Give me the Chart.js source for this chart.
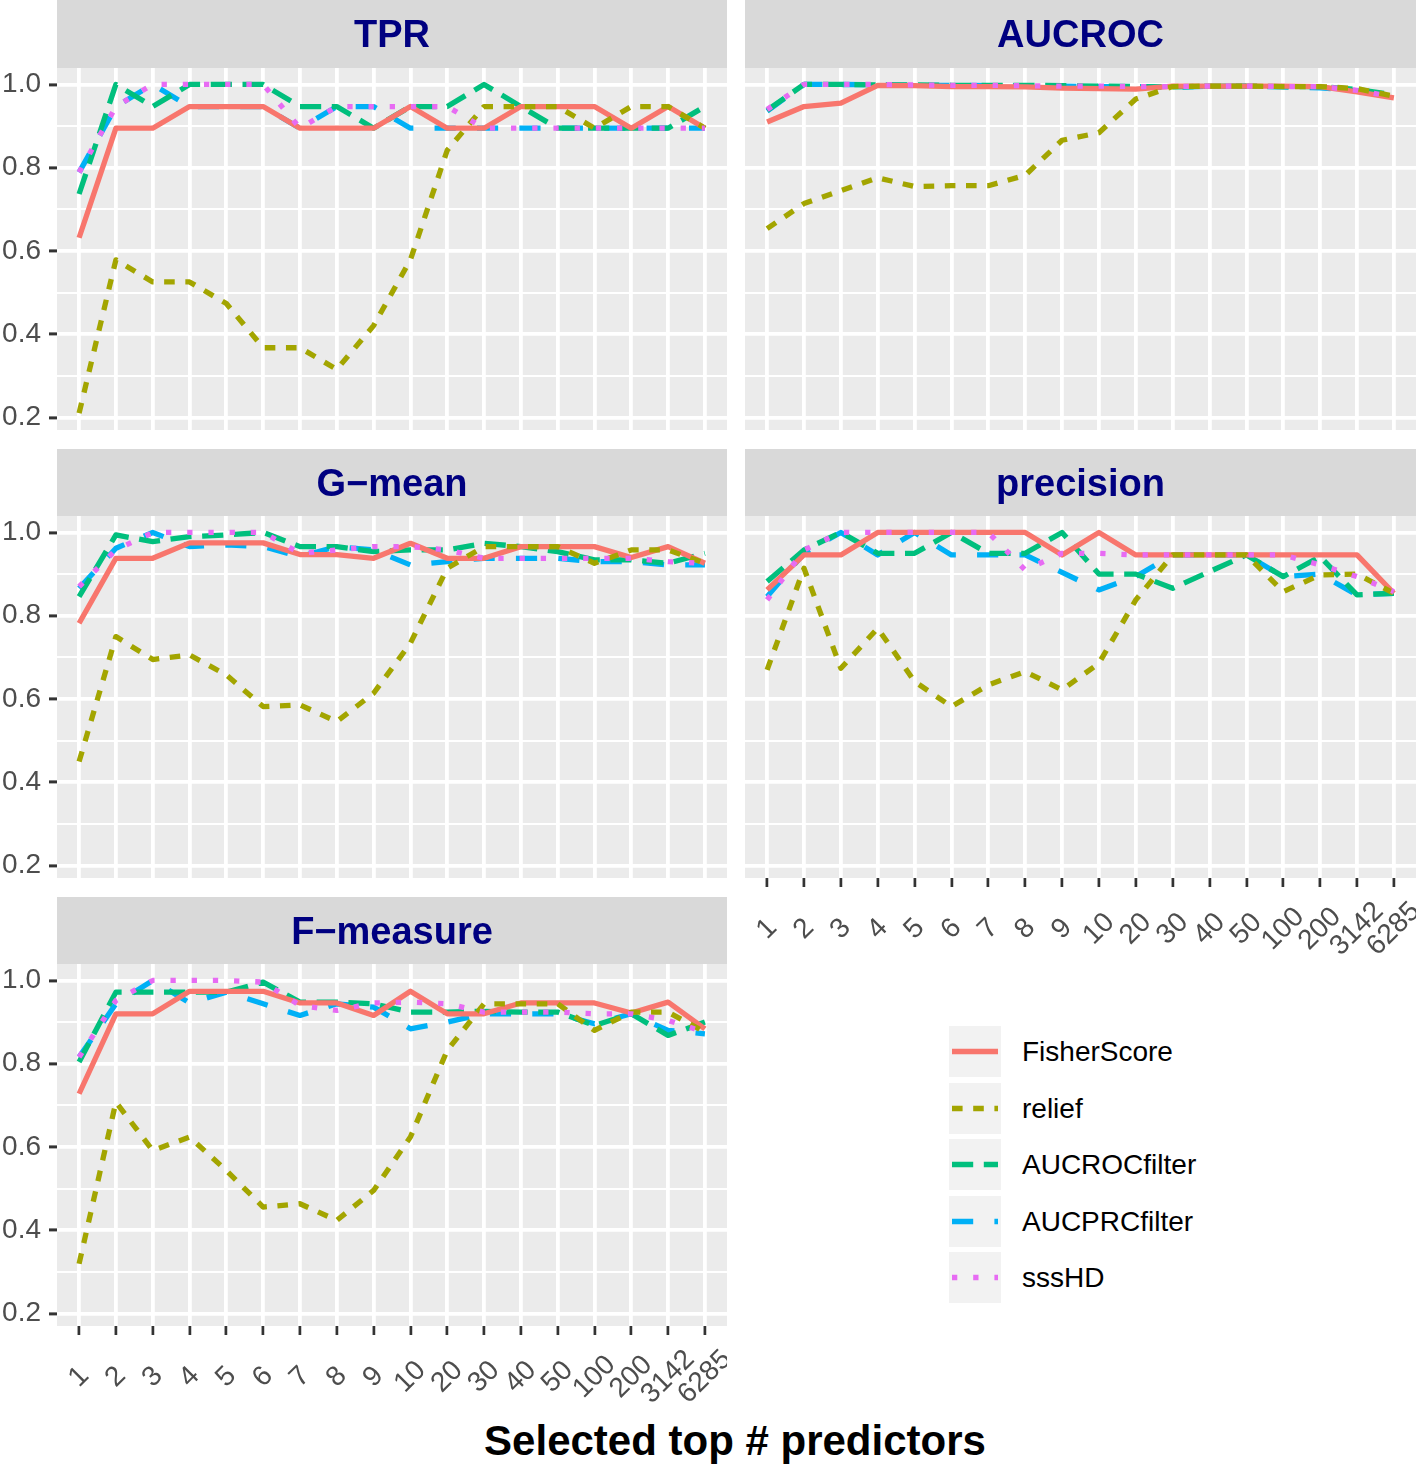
<!DOCTYPE html>
<html>
<head>
<meta charset="utf-8">
<title>Selected top # predictors</title>
<script src="https://cdn.jsdelivr.net/npm/chart.js@4.4.1/dist/chart.umd.min.js"></script>
<style>
  html, body { margin: 0; padding: 0; background: #ffffff; }
  body {
    position: relative;
    width: 1418px;
    height: 1465px;
    overflow: hidden;
    font-family: 'Liberation Sans', Arial, Helvetica, sans-serif;
  }
  .panel { position: absolute; }
  .panel canvas { display: block; }
  #xtitle {
    position: absolute;
    left: 235px;
    top: 1420px;
    width: 1000px;
    text-align: center;
    font-size: 42px;
    line-height: 42px;
    font-weight: bold;
    color: #000000;
  }
  .key { position: absolute; left: 949px; }
  .key canvas { position: absolute; left: 0; top: 0; }
  .key span {
    position: absolute;
    left: 73px;
    top: 0;
    height: 51px;
    line-height: 51px;
    font-size: 28px;
    color: #000000;
    white-space: nowrap;
  }
</style>
</head>
<body>
<div id="xtitle">Selected top # predictors</div>

<script>
// x categories, series names, facet titles
const categories = ['1', '2', '3', '4', '5', '6', '7', '8', '9', '10', '20', '30', '40', '50', '100', '200', '3142', '6285'];
const methods = ['FisherScore', 'relief', 'AUCROCfilter', 'AUCPRCfilter', 'sssHD'];
const metrics = ['TPR', 'AUCROC', 'G\u2212mean', 'precision', 'F\u2212measure'];

// y ticks (minor ones have no label)
const yTickValues = [0.2, 0.3, 0.4, 0.5, 0.6, 0.7, 0.8, 0.9, 1.0];
const yTickLabels = ['0.2', '', '0.4', '', '0.6', '', '0.8', '', '1.0'];

// TPR
const tprFisher = [0.632, 0.895, 0.895, 0.947, 0.947, 0.947, 0.895, 0.895, 0.895, 0.947, 0.895, 0.895, 0.947, 0.947, 0.947, 0.895, 0.947, 0.895];
const tprRelief = [0.211, 0.579, 0.526, 0.526, 0.474, 0.368, 0.368, 0.316, 0.421, 0.579, 0.842, 0.947, 0.947, 0.947, 0.895, 0.947, 0.947, 0.895];
const tprAucroc = [0.737, 1.0, 0.947, 1.0, 1.0, 1.0, 0.947, 0.947, 0.895, 0.947, 0.947, 1.0, 0.947, 0.895, 0.895, 0.895, 0.895, 0.947];
const tprAucprc = [0.789, 0.947, 1.0, 0.947, 0.947, 0.947, 0.895, 0.947, 0.947, 0.895, 0.895, 0.895, 0.895, 0.895, 0.895, 0.895, 0.895, 0.895];
const tprSsshd  = [0.789, 0.947, 1.0, 1.0, 1.0, 1.0, 0.895, 0.947, 0.947, 0.947, 0.947, 0.895, 0.895, 0.895, 0.895, 0.895, 0.895, 0.895];

// AUCROC
const aucFisher = [0.91, 0.947, 0.955, 0.998, 0.997, 0.995, 0.995, 0.994, 0.991, 0.99, 0.989, 0.996, 0.996, 0.996, 0.996, 0.995, 0.982, 0.968];
const aucRelief = [0.654, 0.714, 0.745, 0.776, 0.755, 0.757, 0.757, 0.782, 0.866, 0.884, 0.965, 0.995, 0.996, 0.996, 0.995, 0.995, 0.99, 0.972];
const aucAucroc = [0.938, 1.0, 1.0, 0.999, 0.999, 0.998, 0.998, 0.998, 0.997, 0.996, 0.995, 0.994, 0.996, 0.996, 0.995, 0.995, 0.988, 0.975];
const aucAucprc = [0.936, 1.0, 1.0, 0.999, 0.998, 0.998, 0.997, 0.996, 0.996, 0.995, 0.995, 0.993, 0.996, 0.996, 0.994, 0.992, 0.985, 0.975];
const aucSsshd  = [0.94, 1.0, 1.0, 1.0, 0.999, 0.998, 0.998, 0.997, 0.996, 0.996, 0.995, 0.995, 0.996, 0.996, 0.995, 0.995, 0.986, 0.97];

// G-mean
const gmFisher = [0.782, 0.938, 0.938, 0.975, 0.975, 0.975, 0.947, 0.947, 0.938, 0.974, 0.938, 0.938, 0.966, 0.966, 0.966, 0.94, 0.966, 0.926];
const gmRelief = [0.45, 0.75, 0.695, 0.706, 0.658, 0.582, 0.586, 0.546, 0.614, 0.734, 0.914, 0.966, 0.966, 0.966, 0.926, 0.958, 0.958, 0.926];
const gmAucroc = [0.846, 0.994, 0.978, 0.99, 0.994, 1.0, 0.966, 0.966, 0.954, 0.958, 0.958, 0.974, 0.966, 0.954, 0.934, 0.934, 0.926, 0.95];
const gmAucprc = [0.866, 0.962, 1.0, 0.966, 0.97, 0.966, 0.942, 0.966, 0.958, 0.922, 0.93, 0.938, 0.938, 0.938, 0.93, 0.93, 0.922, 0.922];
const gmSsshd  = [0.87, 0.958, 1.0, 1.0, 1.0, 1.0, 0.95, 0.958, 0.966, 0.966, 0.958, 0.938, 0.938, 0.938, 0.938, 0.938, 0.93, 0.926];

// precision
const prFisher = [0.862, 0.946, 0.946, 1.0, 1.0, 1.0, 1.0, 1.0, 0.946, 1.0, 0.946, 0.946, 0.946, 0.946, 0.946, 0.946, 0.946, 0.854];
const prRelief = [0.67, 0.914, 0.674, 0.77, 0.642, 0.582, 0.634, 0.666, 0.622, 0.686, 0.838, 0.946, 0.946, 0.946, 0.858, 0.898, 0.9, 0.854];
const prAucroc = [0.882, 0.958, 1.0, 0.95, 0.95, 1.0, 0.95, 0.95, 1.0, 0.9, 0.9, 0.866, 0.906, 0.946, 0.894, 0.942, 0.85, 0.854];
const prAucprc = [0.846, 0.95, 1.0, 0.946, 1.0, 0.946, 0.946, 0.946, 0.904, 0.862, 0.894, 0.946, 0.946, 0.946, 0.894, 0.9, 0.85, 0.854];
const prSsshd  = [0.838, 0.958, 1.0, 1.0, 1.0, 1.0, 1.0, 0.91, 0.95, 0.95, 0.946, 0.946, 0.946, 0.946, 0.946, 0.922, 0.894, 0.858];

// F-measure
const fmFisher = [0.728, 0.92, 0.92, 0.974, 0.974, 0.974, 0.946, 0.946, 0.916, 0.974, 0.92, 0.92, 0.946, 0.946, 0.946, 0.922, 0.948, 0.884];
const fmRelief = [0.32, 0.708, 0.592, 0.624, 0.544, 0.456, 0.464, 0.424, 0.496, 0.624, 0.832, 0.944, 0.944, 0.944, 0.88, 0.924, 0.924, 0.876];
const fmAucroc = [0.804, 0.972, 0.972, 0.972, 0.972, 0.996, 0.948, 0.948, 0.944, 0.924, 0.924, 0.926, 0.924, 0.924, 0.892, 0.92, 0.868, 0.9];
const fmAucprc = [0.816, 0.944, 1.0, 0.946, 0.972, 0.944, 0.916, 0.944, 0.936, 0.884, 0.9, 0.92, 0.92, 0.92, 0.896, 0.92, 0.88, 0.872];
const fmSsshd  = [0.816, 0.952, 1.0, 1.0, 1.0, 0.996, 0.94, 0.928, 0.946, 0.948, 0.944, 0.924, 0.924, 0.924, 0.92, 0.92, 0.904, 0.876];

const metricSeries = [
  [tprFisher, tprRelief, tprAucroc, tprAucprc, tprSsshd],
  [aucFisher, aucRelief, aucAucroc, aucAucprc, aucSsshd],
  [gmFisher, gmRelief, gmAucroc, gmAucprc, gmSsshd],
  [prFisher, prRelief, prAucroc, prAucprc, prSsshd],
  [fmFisher, fmRelief, fmAucroc, fmAucprc, fmSsshd]
];

// look of the lines (ggplot hue palette, linetypes solid/22/42/44/13)
const lineColors = ['#F8766D', '#A3A500', '#00BF7D', '#00B0F6', '#E76BF3'];
const lineWidth = 5.3;
const lineDashes = [[], [10.6, 10.6], [21.2, 10.6], [21.2, 21.2], [5.3, 15.9]];
const drawOrder = [3, 2, 4, 5, 1];   // higher drawn first

const fontFamily = "'Liberation Sans', Arial, Helvetica, sans-serif";
const yMin = 0.1705, yMax = 1.0395;

// facet placement on the page (width = plot area only)
const panelH = 362;
const panelBoxes = [
  { left: 0,   top: 0,   width: 670, strip: 68, yAxis: 57, xAxis: 0 },
  { left: 745, top: 0,   width: 671, strip: 68, yAxis: 0,  xAxis: 0 },
  { left: 0,   top: 449, width: 670, strip: 67, yAxis: 57, xAxis: 0 },
  { left: 745, top: 449, width: 671, strip: 67, yAxis: 0,  xAxis: 95 },
  { left: 0,   top: 897, width: 670, strip: 67, yAxis: 57, xAxis: 95 }
];

// grey strip + panel background
const panelBg = {
  id: 'panelBg',
  beforeDraw(chart) {
    const a = chart.chartArea;
    const ctx = chart.ctx;
    ctx.save();
    ctx.fillStyle = '#D9D9D9';
    ctx.fillRect(a.left, 0, a.right - a.left, a.top);
    ctx.fillStyle = '#EBEBEB';
    ctx.fillRect(a.left, a.top, a.right - a.left, a.bottom - a.top);
    ctx.restore();
  }
};

// rotated category labels, centred under each tick
const xLabels = {
  id: 'xLabels',
  afterDraw(chart, args, opts) {
    if (!opts.show) return;
    const ctx = chart.ctx;
    const xs = chart.scales.x;
    const bottom = chart.chartArea.bottom;
    ctx.save();
    ctx.font = '28px ' + fontFamily;
    ctx.fillStyle = '#4D4D4D';
    ctx.textAlign = 'center';
    ctx.textBaseline = 'middle';
    categories.forEach(function (lab, i) {
      ctx.save();
      ctx.translate(xs.getPixelForValue(i), bottom + 51);
      ctx.rotate(-Math.PI / 4);
      ctx.fillText(lab, 0, 0);
      ctx.restore();
    });
    ctx.restore();
  }
};

function isMajor(i) {
  return yTickLabels[i] !== '';
}

function zeroPadding(s) {
  s.paddingLeft = 0;
  s.paddingRight = 0;
  s.paddingTop = 0;
  s.paddingBottom = 0;
}

function buildPanel(k) {
  const box = panelBoxes[k];
  const showY = box.yAxis > 0;
  const showX = box.xAxis > 0;

  const holder = document.createElement('div');
  holder.className = 'panel';
  holder.style.left = box.left + 'px';
  holder.style.top = box.top + 'px';
  holder.style.width = (box.yAxis + box.width) + 'px';
  holder.style.height = (box.strip + panelH + box.xAxis) + 'px';
  const canvas = document.createElement('canvas');
  holder.appendChild(canvas);
  document.body.appendChild(holder);

  const datasets = methods.map(function (name, m) {
    return {
      label: name,
      data: metricSeries[k][m].map(function (v, i) { return { x: i, y: v }; }),
      borderColor: lineColors[m],
      backgroundColor: lineColors[m],
      borderWidth: lineWidth,
      borderDash: lineDashes[m],
      borderCapStyle: 'butt',
      borderJoinStyle: 'round',
      pointRadius: 0,
      pointHoverRadius: 0,
      tension: 0,
      fill: false,
      order: drawOrder[m]
    };
  });

  const titlePad = (box.strip - 38 * 1.2) / 2;

  new Chart(canvas, {
    type: 'line',
    data: { datasets: datasets },
    plugins: [panelBg, xLabels],
    options: {
      responsive: true,
      maintainAspectRatio: false,
      animation: false,
      devicePixelRatio: 1,
      events: [],
      layout: { padding: 0, autoPadding: false },
      plugins: {
        legend: { display: false },
        tooltip: { enabled: false },
        title: {
          display: true,
          text: metrics[k],
          fullSize: false,
          color: '#000080',
          font: { family: fontFamily, size: 38, weight: 'bold', lineHeight: 1.2 },
          padding: { top: titlePad + 3, bottom: titlePad - 3 }
        },
        xLabels: { show: showX }
      },
      scales: {
        x: {
          type: 'linear',
          bounds: 'data',
          min: -0.6,
          max: 17.6,
          afterBuildTicks: function (s) {
            s.ticks = categories.map(function (c, i) { return { value: i }; });
          },
          afterFit: function (s) {
            s.height = box.xAxis;
            zeroPadding(s);
          },
          ticks: { display: false, autoSkip: false },
          grid: {
            color: '#FFFFFF',
            lineWidth: 3.8,
            drawTicks: showX,
            tickLength: 9,
            tickColor: '#333333',
            tickWidth: 2.7
          },
          border: { display: false }
        },
        y: {
          type: 'linear',
          bounds: 'data',
          min: yMin,
          max: yMax,
          afterBuildTicks: function (s) {
            s.ticks = yTickValues.map(function (v) { return { value: v }; });
          },
          afterFit: function (s) {
            s.width = box.yAxis;
            zeroPadding(s);
          },
          ticks: {
            display: showY,
            autoSkip: false,
            padding: 8,
            color: '#4D4D4D',
            font: { family: fontFamily, size: 28 },
            callback: function (v, i) { return yTickLabels[i]; }
          },
          grid: {
            color: '#FFFFFF',
            lineWidth: function (c) { return isMajor(c.index) ? 3.8 : 1.9; },
            drawTicks: showY,
            tickLength: 8,
            tickColor: function (c) { return isMajor(c.index) ? '#333333' : 'rgba(0,0,0,0)'; },
            tickWidth: function (c) { return isMajor(c.index) ? 3 : 0; }
          },
          border: { display: false }
        }
      }
    }
  });
}

for (let k = 0; k < metrics.length; k++) {
  buildPanel(k);
}

// legend in the empty sixth cell
methods.forEach(function (name, m) {
  const row = document.createElement('div');
  row.className = 'key';
  row.style.top = (1026 + m * 56.5) + 'px';
  const sw = document.createElement('canvas');
  sw.width = 52;
  sw.height = 51;
  const c = sw.getContext('2d');
  c.fillStyle = '#F2F2F2';
  c.fillRect(0, 0, 52, 51);
  c.strokeStyle = lineColors[m];
  c.lineWidth = lineWidth;
  c.setLineDash(lineDashes[m]);
  c.beginPath();
  c.moveTo(3, 25.5);
  c.lineTo(49, 25.5);
  c.stroke();
  const lab = document.createElement('span');
  lab.textContent = name;
  row.appendChild(sw);
  row.appendChild(lab);
  document.body.appendChild(row);
});
</script>
</body>
</html>
